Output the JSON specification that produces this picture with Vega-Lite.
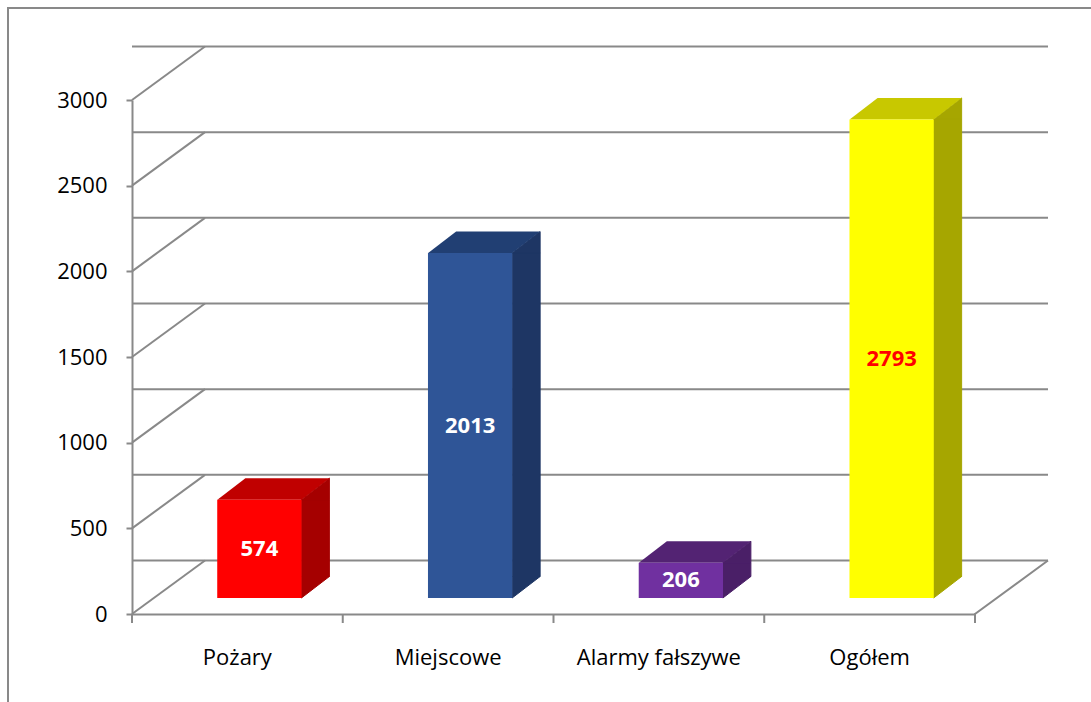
{
  "$schema": "https://vega.github.io/schema/vega-lite/v6.json",
  "width": 843,
  "height": 514,
  "autosize": {"type": "none"},
  "padding": {"left": 132, "top": 100, "right": 116, "bottom": 88},
  "background": "white",
  "config": {"font": "Open Sans", "view": {"stroke": null}},
  "datasets": {
    "bars": [
      {"cat": "Pożary", "value": 574},
      {"cat": "Miejscowe", "value": 2013},
      {"cat": "Alarmy fałszywe", "value": 206},
      {"cat": "Ogółem", "value": 2793}
    ],
    "grid": [{"v": 0}, {"v": 500}, {"v": 1000}, {"v": 1500}, {"v": 2000}, {"v": 2500}, {"v": 3000}]
  },
  "resolve": {"scale": {"color": "independent", "stroke": "independent"}, "axis": {"x": "independent", "y": "independent"}},
  "layer": [
    {
      "data": {"name": "grid"},
      "mark": {"type": "rule", "color": "#898989", "strokeWidth": 2, "xOffset": 73, "x2Offset": 73, "yOffset": -53.5, "y2Offset": -53.5},
      "encoding": {
        "y": {"field": "v", "type": "quantitative", "scale": {"domain": [0, 3000], "nice": false}, "axis": null}
      }
    },
    {
      "data": {"name": "grid"},
      "mark": {"type": "point", "shape": "M 0 0 L 73 -53.5", "size": 4, "filled": false, "stroke": "#898989", "strokeWidth": 2, "opacity": 1},
      "encoding": {
        "x": {"datum": "Pożary", "type": "nominal", "bandPosition": 0, "scale": {"domain": ["Pożary", "Miejscowe", "Alarmy fałszywe", "Ogółem"], "paddingInner": 0, "paddingOuter": 0}, "axis": null},
        "y": {"field": "v", "type": "quantitative", "scale": {"domain": [0, 3000], "nice": false}, "axis": null}
      }
    },
    {
      "data": {"name": "bars"},
      "mark": {"type": "point", "shape": "M 0 0 L 0 9", "size": 4, "filled": false, "stroke": "#898989", "strokeWidth": 2, "opacity": 1},
      "encoding": {
        "x": {"field": "cat", "type": "nominal", "sort": null, "bandPosition": 0, "scale": {"domain": ["Pożary", "Miejscowe", "Alarmy fałszywe", "Ogółem"], "paddingInner": 0, "paddingOuter": 0}, "axis": null},
        "y": {"datum": 0, "type": "quantitative", "scale": {"domain": [0, 3000], "nice": false}, "axis": null}
      }
    },
    {
      "data": {"values": [{"edge": "right"}]},
      "mark": {"type": "point", "shape": "M 0 9 L 0 0 L 73 -53.5", "size": 4, "filled": false, "stroke": "#898989", "strokeWidth": 2, "opacity": 1},
      "encoding": {
        "x": {"datum": "Ogółem", "type": "nominal", "bandPosition": 1, "scale": {"domain": ["Pożary", "Miejscowe", "Alarmy fałszywe", "Ogółem"], "paddingInner": 0, "paddingOuter": 0}, "axis": null},
        "y": {"datum": 0, "type": "quantitative", "scale": {"domain": [0, 3000], "nice": false}, "axis": null}
      }
    },
    {
      "data": {"values": [{"edge": "frame"}]},
      "mark": {"type": "point", "shape": "M -124 90 L -124 -606 L 961 -606", "size": 4, "filled": false, "stroke": "#898989", "strokeWidth": 2, "opacity": 1},
      "encoding": {
        "x": {"datum": "Pożary", "type": "nominal", "bandPosition": 0, "scale": {"domain": ["Pożary", "Miejscowe", "Alarmy fałszywe", "Ogółem"], "paddingInner": 0, "paddingOuter": 0}, "axis": null},
        "y": {"datum": 0, "type": "quantitative", "scale": {"domain": [0, 3000], "nice": false}, "axis": null}
      }
    },
    {
      "data": {"name": "bars"},
      "mark": {"type": "bar", "width": 28, "xOffset": 78, "yOffset": -16, "y2Offset": -37.5, "strokeWidth": 1},
      "encoding": {
        "x": {"field": "cat", "type": "nominal", "sort": null, "scale": {"domain": ["Pożary", "Miejscowe", "Alarmy fałszywe", "Ogółem"], "paddingInner": 0, "paddingOuter": 0}, "axis": null},
        "y": {"field": "value", "type": "quantitative", "scale": {"domain": [0, 3000], "nice": false}, "axis": null},
        "y2": {"datum": 0},
        "color": {"field": "cat", "type": "nominal", "sort": null, "legend": null, "scale": {"domain": ["Pożary", "Miejscowe", "Alarmy fałszywe", "Ogółem"], "range": ["#A50000", "#1E3664", "#4A1F67", "#A6A600"]}},
        "stroke": {"field": "cat", "type": "nominal", "sort": null, "legend": null, "scale": {"domain": ["Pożary", "Miejscowe", "Alarmy fałszywe", "Ogółem"], "range": ["#A50000", "#1E3664", "#4A1F67", "#A6A600"]}}
      }
    },
    {
      "data": {"name": "bars"},
      "mark": {"type": "point", "shape": "M 0 0 L 28 -21.5 L 28 0 Z", "size": 4, "filled": true, "opacity": 1, "xOffset": 64, "yOffset": -16, "strokeWidth": 1},
      "encoding": {
        "x": {"field": "cat", "type": "nominal", "sort": null, "scale": {"domain": ["Pożary", "Miejscowe", "Alarmy fałszywe", "Ogółem"], "paddingInner": 0, "paddingOuter": 0}, "axis": null},
        "y": {"field": "value", "type": "quantitative", "scale": {"domain": [0, 3000], "nice": false}, "axis": null},
        "color": {"field": "cat", "type": "nominal", "sort": null, "legend": null, "scale": {"domain": ["Pożary", "Miejscowe", "Alarmy fałszywe", "Ogółem"], "range": ["#A50000", "#1E3664", "#4A1F67", "#A6A600"]}},
        "stroke": {"field": "cat", "type": "nominal", "sort": null, "legend": null, "scale": {"domain": ["Pożary", "Miejscowe", "Alarmy fałszywe", "Ogółem"], "range": ["#A50000", "#1E3664", "#4A1F67", "#A6A600"]}}
      }
    },
    {
      "data": {"name": "bars"},
      "mark": {"type": "point", "shape": "M 0 0 L 0 -21.5 L 28 -21.5 Z", "size": 4, "filled": true, "opacity": 1, "xOffset": 64, "yOffset": -16, "strokeWidth": 1},
      "encoding": {
        "x": {"field": "cat", "type": "nominal", "sort": null, "scale": {"domain": ["Pożary", "Miejscowe", "Alarmy fałszywe", "Ogółem"], "paddingInner": 0, "paddingOuter": 0}, "axis": null},
        "y": {"datum": 0, "type": "quantitative", "scale": {"domain": [0, 3000], "nice": false}, "axis": null},
        "color": {"field": "cat", "type": "nominal", "sort": null, "legend": null, "scale": {"domain": ["Pożary", "Miejscowe", "Alarmy fałszywe", "Ogółem"], "range": ["#A50000", "#1E3664", "#4A1F67", "#A6A600"]}},
        "stroke": {"field": "cat", "type": "nominal", "sort": null, "legend": null, "scale": {"domain": ["Pożary", "Miejscowe", "Alarmy fałszywe", "Ogółem"], "range": ["#A50000", "#1E3664", "#4A1F67", "#A6A600"]}}
      }
    },
    {
      "data": {"name": "bars"},
      "mark": {"type": "point", "shape": "M -42 0 L 42 0 L 70 -21.5 L -14 -21.5 Z", "size": 4, "filled": true, "opacity": 1, "xOffset": 22, "yOffset": -16},
      "encoding": {
        "x": {"field": "cat", "type": "nominal", "sort": null, "scale": {"domain": ["Pożary", "Miejscowe", "Alarmy fałszywe", "Ogółem"], "paddingInner": 0, "paddingOuter": 0}, "axis": null},
        "y": {"field": "value", "type": "quantitative", "scale": {"domain": [0, 3000], "nice": false}, "axis": null},
        "color": {"field": "cat", "type": "nominal", "sort": null, "legend": null, "scale": {"domain": ["Pożary", "Miejscowe", "Alarmy fałszywe", "Ogółem"], "range": ["#C00000", "#213F73", "#532373", "#C8C800"]}}
      }
    },
    {
      "data": {"name": "bars"},
      "mark": {"type": "bar", "width": {"band": 0.4}, "xOffset": 22, "yOffset": -16, "y2Offset": -16},
      "encoding": {
        "x": {"field": "cat", "type": "nominal", "sort": null, "title": null,
              "scale": {"domain": ["Pożary", "Miejscowe", "Alarmy fałszywe", "Ogółem"], "paddingInner": 0, "paddingOuter": 0},
              "axis": {"orient": "bottom", "labelAngle": 0, "ticks": false, "domainColor": "#898989", "domainWidth": 2, "labelFontSize": 22, "labelColor": "#000000", "labelFont": "Open Sans", "labelPadding": 33}},
        "y": {"field": "value", "type": "quantitative", "title": null,
              "scale": {"domain": [0, 3000], "nice": false},
              "axis": {"orient": "left", "format": "d", "values": [0, 500, 1000, 1500, 2000, 2500, 3000], "grid": false, "domainColor": "#898989", "domainWidth": 2, "tickColor": "#898989", "tickWidth": 2, "tickSize": 6, "labelFontSize": 22, "labelColor": "#000000", "labelFont": "Open Sans", "labelPadding": 19, "labelFlush": false, "labelOverlap": false}},
        "y2": {"datum": 0},
        "color": {"field": "cat", "type": "nominal", "sort": null, "legend": null, "scale": {"domain": ["Pożary", "Miejscowe", "Alarmy fałszywe", "Ogółem"], "range": ["#FF0000", "#2F5597", "#7030A0", "#FFFF00"]}}
      }
    },
    {
      "data": {"name": "bars"},
      "transform": [{"calculate": "datum.value / 2", "as": "mid"}],
      "mark": {"type": "text", "fontSize": 22, "fontWeight": "bold", "font": "Open Sans", "xOffset": 22, "yOffset": -16, "baseline": "middle", "align": "center"},
      "encoding": {
        "x": {"field": "cat", "type": "nominal", "sort": null, "scale": {"domain": ["Pożary", "Miejscowe", "Alarmy fałszywe", "Ogółem"], "paddingInner": 0, "paddingOuter": 0}, "axis": null},
        "y": {"field": "mid", "type": "quantitative", "scale": {"domain": [0, 3000], "nice": false}, "axis": null},
        "text": {"field": "value", "type": "quantitative"},
        "color": {"condition": {"test": "datum.cat === 'Ogółem'", "value": "#FF0000"}, "value": "#FFFFFF"}
      }
    }
  ]
}
